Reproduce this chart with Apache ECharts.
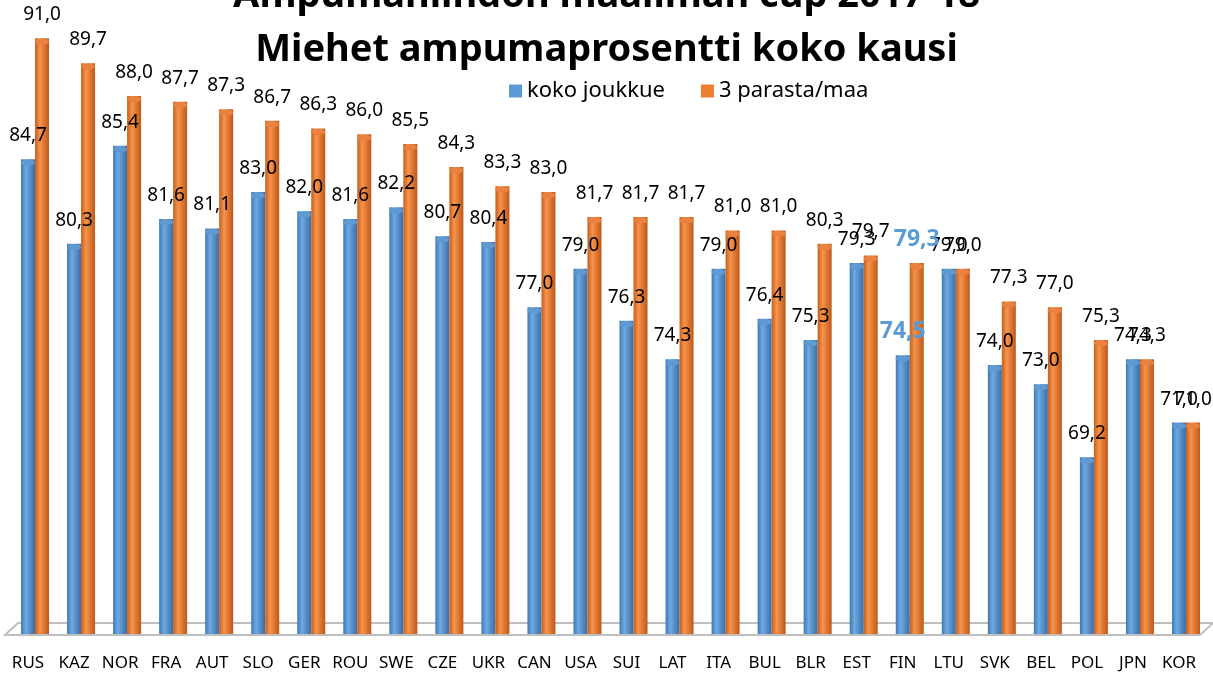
<!DOCTYPE html>
<html>
<head>
<meta charset="utf-8">
<script src="https://cdn.jsdelivr.net/npm/echarts@6/dist/echarts.min.js"></script>
<style>
  html, body { margin: 0; padding: 0; background: #ffffff; }
  #chart { width: 1213px; height: 679px; }
</style>
</head>
<body>
<div id="chart"></div>
<script>
// maat
var countries = ['RUS', 'KAZ', 'NOR', 'FRA', 'AUT', 'SLO', 'GER', 'ROU', 'SWE', 'CZE', 'UKR', 'CAN', 'USA',
  'SUI', 'LAT', 'ITA', 'BUL', 'BLR', 'EST', 'FIN', 'LTU', 'SVK', 'BEL', 'POL', 'JPN', 'KOR']
// koko joukkue
var teamPct = [84.7, 80.3, 85.4, 81.6, 81.1, 83.0, 82.0, 81.6, 82.2, 80.7, 80.4, 77.0, 79.0,
  76.3, 74.3, 79.0, 76.4, 75.3, 79.3, 74.5, 79.0, 74.0, 73.0, 69.2, 74.3, 71.0]
// 3 parasta/maa
var top3Pct = [91.0, 89.7, 88.0, 87.7, 87.3, 86.7, 86.3, 86.0, 85.5, 84.3, 83.3, 83.0, 81.7,
  81.7, 81.7, 81.0, 81.0, 80.3, 79.7, 79.3, 79.0, 77.3, 77.0, 75.3, 74.3, 71.0]
var highlight = 'FIN'

var fmt = function (v) { return v.toFixed(1).replace('.', ',') }

function cyl (dark, light, darker) {
  return new echarts.graphic.LinearGradient(0, 0, 1, 0, [
    { offset: 0, color: dark },
    { offset: 0.35, color: light },
    { offset: 1, color: darker }
  ])
}

function barData (vals) {
  return vals.map(function (v, i) {
    var item = { value: v }
    if (countries[i] === highlight) {
      item.label = { color: '#5B9BD5', fontWeight: 'bold', fontSize: 23, distance: 12 }
    }
    return item
  })
}

var labelStyle = {
  show: true,
  position: 'top',
  distance: 14,
  fontFamily: 'Noto Sans',
  fontSize: 19,
  color: '#000000',
  formatter: function (p) { return fmt(p.value) }
}

var myChart = echarts.init(document.getElementById('chart'))
var option = {
  animation: false,
  title: [
    {
      text: 'Ampumahiihdon maailman cup 2017-18',
      left: 'center',
      top: -28,
      textStyle: { fontFamily: 'Noto Sans', fontWeight: 'bold', fontSize: 38, color: '#000000' }
    },
    {
      text: 'Miehet ampumaprosentti koko kausi',
      left: 'center',
      top: 26,
      textStyle: { fontFamily: 'Noto Sans', fontWeight: 'bold', fontSize: 38, color: '#000000' }
    }
  ],
  legend: {
    left: 504,
    top: 75,
    itemWidth: 13,
    itemHeight: 13,
    itemGap: 36,
    icon: 'rect',
    textStyle: { fontFamily: 'Noto Sans', fontSize: 22, color: '#000000' },
    data: [
      { name: 'koko joukkue', itemStyle: { color: '#5B9BD5' } },
      { name: '3 parasta/maa', itemStyle: { color: '#ED7D31' } }
    ]
  },
  graphic: [
    {
      type: 'polygon',
      z: -1,
      shape: { points: [[5, 635], [1200, 635], [1213, 623], [18, 623]] },
      style: { fill: '#ffffff', stroke: '#bfbfbf', lineWidth: 2 }
    }
  ],
  grid: { left: 12, right: 4, top: 19, bottom: 45 },
  xAxis: {
    type: 'category',
    data: countries,
    axisLine: { show: false },
    axisTick: { show: false },
    axisLabel: {
      interval: 0,
      margin: 21,
      padding: [0, 14, 0, 0],
      fontFamily: 'Noto Sans',
      fontSize: 17,
      color: '#000000'
    }
  },
  yAxis: {
    type: 'value',
    min: 60,
    max: 92,
    show: false,
    splitLine: { show: false }
  },
  series: [
    {
      name: 'koko joukkue',
      type: 'bar',
      barWidth: 14,
      barGap: '0%',
      data: barData(teamPct),
      itemStyle: { color: cyl('#3f78b5', '#6eaae2', '#3a6da6') },
      label: labelStyle
    },
    {
      name: '3 parasta/maa',
      type: 'bar',
      barWidth: 14,
      barGap: '0%',
      data: barData(top3Pct),
      itemStyle: { color: cyl('#c55d1c', '#f7944c', '#bf5818') },
      label: labelStyle
    },
    {
      name: 'koko joukkue',
      type: 'pictorialBar',
      symbol: 'circle',
      symbolSize: [14, 6],
      symbolPosition: 'end',
      barGap: '0%',
      barWidth: 14,
      z: 3,
      silent: true,
      data: teamPct,
      itemStyle: { color: '#5f9ad2', borderColor: '#3a6da6', borderWidth: 1 }
    },
    {
      name: '3 parasta/maa',
      type: 'pictorialBar',
      symbol: 'circle',
      symbolSize: [14, 6],
      symbolPosition: 'end',
      barGap: '0%',
      barWidth: 14,
      z: 3,
      silent: true,
      data: top3Pct,
      itemStyle: { color: '#ea8140', borderColor: '#bf5818', borderWidth: 1 }
    }
  ]
}
myChart.setOption(option)
</script>
</body>
</html>
